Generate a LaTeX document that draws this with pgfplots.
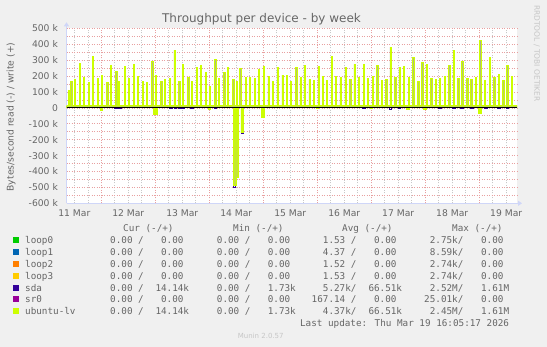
\documentclass[border=0pt]{standalone}
\usepackage{pgfplots}
\pgfplotsset{compat=1.18}
\usepackage{fontspec}
\setmainfont{DejaVu Sans}
\newfontfamily\mono{DejaVu Sans Mono}
\usetikzlibrary{arrows.meta}
\definecolor{bg}{HTML}{F0F0F0}
\definecolor{fontc}{HTML}{666666}
\definecolor{axisc}{HTML}{CFD6F8}
\definecolor{gridc}{HTML}{C8C8C8}
\definecolor{mgridc}{HTML}{E8A0A0}
\definecolor{cloop0}{HTML}{00CC00}
\definecolor{cloop1}{HTML}{0066B3}
\definecolor{cloop2}{HTML}{FF8000}
\definecolor{cloop3}{HTML}{FFCC00}
\definecolor{csda}{HTML}{330099}
\definecolor{csr0}{HTML}{990099}
\definecolor{cubuntu}{HTML}{CCFF00}
\definecolor{shtop}{HTML}{A8A89C}
\definecolor{shbot}{HTML}{C4E040}
\newcommand\Q{\hphantom{0}}
\newcommand\lfont{\mono\fontsize{9.3bp}{11bp}\selectfont}
\newcommand\vals[9]{%
  \node[anchor=base east] at (144,#1) {#2/};
  \node[anchor=base east] at (189.3,#1) {#3};
  \node[anchor=base east] at (250.7,#1) {#4/};
  \node[anchor=base east] at (296,#1) {#5};
  \node[anchor=base east] at (356.7,#1) {#6/};
  \node[anchor=base east] at (402.3,#1) {#7};
  \node[anchor=base east] at (463.6,#1) {#8/};
  \node[anchor=base east] at (509.3,#1) {#9};}
\begin{document}
\begin{tikzpicture}
\fill[bg] (0,0) rectangle (547bp,347bp);
\useasboundingbox (0,0) rectangle (547bp,347bp);
\begin{axis}[
  at={(66.5bp,143.7bp)}, anchor=south west,
  scale only axis, width=450.5bp, height=175bp,
  xmin=8.53, xmax=208.8, ymin=-600, ymax=500,
  axis background/.style={fill=white},
  axis x line=bottom, axis y line=left,
  axis line style={draw=axisc, line width=1bp},
  x axis line style={-{Triangle[length=4bp,width=5bp]}, shorten >=-5bp},
  y axis line style={-{Triangle[length=4bp,width=5bp]}, shorten >=-6bp},
  xtick={12,36,60,84,108,132,156,180,204},
  xticklabels={11 Mar,12 Mar,13 Mar,14 Mar,15 Mar,16 Mar,17 Mar,18 Mar,19 Mar},
  minor xtick={0,6,...,210},
  extra x ticks={24,48,72,96,120,144,168,192},
  extra x tick labels={},
  extra x tick style={grid=major, major grid style={draw=mgridc, line width=0.6bp, dash pattern=on 1bp off 1.5bp}},
  ytick={-600,-500,...,500},
  yticklabels={-600 k,-500 k,-400 k,-300 k,-200 k,-100 k,0,100 k,200 k,300 k,400 k,500 k},
  minor ytick={-550,-450,...,450},
  xmajorgrids, xminorgrids, ymajorgrids, yminorgrids,
  major grid style={draw=gridc, line width=0.6bp, dash pattern=on 1bp off 1.5bp},
  minor grid style={draw=gridc, line width=0.6bp, dash pattern=on 1bp off 1.5bp},
  y grid style={draw=mgridc},
  every major tick/.style={draw=none},
  every minor tick/.style={draw=none},
  tick label style={font=\fontsize{9.2bp}{11bp}\selectfont, text=fontc},
  yticklabel style={anchor=east, xshift=-3bp},
  xticklabel style={anchor=north, yshift=-1bp},
]
% sda read (-)
\addplot[const plot, draw=csda, line width=0.9bp] coordinates {
(8.53,0)
(30.0,-5)(31.0,0)(31.8,-5)(32.8,0)(54.5,-5)(55.5,0)(56.3,-5)(57.3,0)
(58.2,-5)(59.2,0)(59.8,-5)(60.8,0)(63.8,-5)(64.8,0)(74.2,-5)(75.2,0)
(82.7,-500)(83.7,-440)(85.0,0)(86.1,-160)(87.1,0)
(140.3,-5)(141.3,0)(152.1,-10)(153.1,0)(156.1,-5)(157.1,0)(174.0,-5)(175.0,0)
(180.3,-5)(181.3,0)(183.8,-5)(184.8,0)(188.3,-5)(189.3,0)(194.5,-5)(195.5,0)
(200.3,-5)(201.3,0)(204.1,-5)(205.1,0)
(208.8,0)};
% ubuntu-lv read (-)
\addplot[const plot, draw=cubuntu, line width=0.9bp, top color=cubuntu, bottom color=shbot] coordinates {
(8.53,0)
(23.5,-16)(24.5,0)(47.3,-41)(49.1,0)(71.5,-8)(72.5,0)
(82.7,-490)(83.9,-440)(85.0,0)(86.1,-157)(87.1,0)
(95.3,-62)(96.4,0)(119.5,-5)(120.5,0)(143.5,-5)(144.5,0)
(159.8,-10)(160.8,0)(167.4,-12)(168.4,0)(191.8,-37)(192.8,0)
(208.8,0)} \closedcycle;
% ubuntu-lv write (+)
\addplot[const plot, draw=cubuntu, line width=0.8bp, top color=shtop, bottom color=shbot] coordinates {
(8.53,15)
(9.3,111)(9.9,15) (10.4,168)(11.0,15) (11.9,178)(12.5,15)
(14.2,279)(14.8,15) (16.0,193)(16.6,15) (18.2,158)(18.8,15)
(20.1,323)(20.7,15) (22.2,185)(22.8,15) (24.1,206)(24.7,15)
(26.4,158)(27.0,15) (28.1,268)(28.7,15) (30.4,227)(31.0,15)
(31.6,164)(32.2,15) (34.2,260)(34.8,15) (36.0,185)(36.6,15)
(38.2,273)(38.8,15) (40.0,199)(40.6,15) (42.2,164)(42.8,15)
(43.9,158)(44.5,15) (46.4,294)(47.0,15) (48.1,206)(48.7,15)
(50.4,164)(51.0,15) (52.0,178)(52.6,15) (54.2,185)(54.8,15)
(56.3,361)(56.9,15) (58.4,164)(59.0,15) (60.1,273)(60.7,15)
(62.4,189)(63.0,15) (64.0,164)(64.6,15) (66.2,252)(66.8,15)
(68.0,265)(68.6,15) (70.2,221)(70.8,15) (72.1,137)(72.7,15)
(74.4,304)(75.0,15) (76.1,185)(76.7,15) (78.4,221)(79.0,15)
(80.1,252)(80.7,15) (82.4,178)(83.0,15) (84.0,164)(84.6,15)
(85.5,248)(86.1,15) (88.0,189)(88.6,15) (89.8,193)(90.4,15)
(92.1,185)(92.7,15) (93.9,241)(94.5,15) (96.1,262)(96.7,15)
(98.1,199)(98.7,15) (100.1,164)(100.7,15) (102.1,252)(102.7,15)
(104.3,206)(104.9,15) (106.2,206)(106.8,15) (108.1,164)(108.7,15)
(110.4,252)(111.0,15) (112.3,189)(112.9,15) (114.1,268)(114.7,15)
(116.3,178)(116.9,15) (118.2,172)(118.8,15) (120.3,262)(120.9,15)
(122.2,199)(122.8,15) (124.1,172)(124.7,15) (126.2,323)(126.8,15)
(128.1,199)(128.7,15) (130.1,189)(130.7,15) (132.3,252)(132.9,15)
(134.4,178)(135.0,15) (136.3,273)(136.9,15) (138.2,189)(138.8,15)
(140.5,273)(141.1,15) (142.2,185)(142.8,15) (144.5,199)(145.1,15)
(146.4,268)(147.0,15) (148.5,172)(149.1,15) (150.4,178)(151.0,15)
(152.3,382)(152.9,15) (154.4,193)(155.0,15) (156.3,252)(156.9,15)
(158.2,260)(158.8,15) (160.5,189)(161.1,15) (162.4,315)(163.0,15)
(164.6,164)(165.2,15) (166.4,283)(167.0,15) (168.3,273)(168.9,15)
(170.5,185)(171.1,15) (172.5,178)(173.1,15) (174.2,185)(174.8,15)
(176.5,199)(177.1,15) (178.4,265)(179.0,15) (180.5,361)(181.1,15)
(182.4,185)(183.0,15) (184.3,290)(184.9,15) (186.4,185)(187.0,15)
(188.3,178)(188.9,15) (190.2,189)(190.8,15) (192.3,424)(192.9,15)
(194.2,172)(194.8,15) (196.5,315)(197.1,15) (198.4,189)(199.0,15)
(200.5,210)(201.1,15) (202.4,172)(203.0,15) (204.3,266)(204.9,15)
(206.2,199)(206.8,15)
(208.8,15)} \closedcycle;
\draw[black, line width=0.9bp] (axis cs:8.53,0) -- (axis cs:208.8,0);
\end{axis}
\begin{scope}[x=1bp,y=1bp]
% titles
\node[text=fontc, font=\fontsize{12bp}{14bp}\selectfont] at (261.5,327.7) {Throughput per device - by week};
\node[text=fontc, rotate=90, font=\fontsize{9.2bp}{11bp}\selectfont] at (11,230) {Bytes/second read (-) / write (+)};
\node[text=gray!45, rotate=-90, font=\fontsize{7.5bp}{9bp}\selectfont] at (536.7,293.5) {RRDTOOL / TOBI OETIKER};
% legend
\begin{scope}[every node/.style={inner sep=0pt, text=fontc, font=\lfont}]
\node[anchor=base west] at (123,115.9) {Cur (-/+)};
\node[anchor=base west] at (233,115.9) {Min (-/+)};
\node[anchor=base west] at (342,115.9) {Avg (-/+)};
\node[anchor=base west] at (452,115.9) {Max (-/+)};
\fill[cloop0] (13,104) rectangle (19,110);
\fill[cloop1] (13,92.1) rectangle (19,98.1);
\fill[cloop2] (13,80.2) rectangle (19,86.2);
\fill[cloop3] (13,68.3) rectangle (19,74.3);
\fill[csda] (13,56.4) rectangle (19,62.4);
\fill[csr0] (13,44.5) rectangle (19,50.5);
\fill[cubuntu] (13,32.6) rectangle (19,38.6);
\node[anchor=base west] at (25,103.6) {loop0};
\node[anchor=base west] at (25,91.7) {loop1};
\node[anchor=base west] at (25,79.8) {loop2};
\node[anchor=base west] at (25,67.9) {loop3};
\node[anchor=base west] at (25,56.0) {sda};
\node[anchor=base west] at (25,44.1) {sr0};
\node[anchor=base west] at (25,32.2) {ubuntu-lv};
\vals{103.6}{0.00\Q}{0.00\Q}{0.00\Q}{0.00\Q}{1.53\Q}{0.00\Q}{2.75k}{0.00\Q}
\vals{91.7}{0.00\Q}{0.00\Q}{0.00\Q}{0.00\Q}{4.37\Q}{0.00\Q}{8.59k}{0.00\Q}
\vals{79.8}{0.00\Q}{0.00\Q}{0.00\Q}{0.00\Q}{1.52\Q}{0.00\Q}{2.74k}{0.00\Q}
\vals{67.9}{0.00\Q}{0.00\Q}{0.00\Q}{0.00\Q}{1.53\Q}{0.00\Q}{2.74k}{0.00\Q}
\vals{56.0}{0.00\Q}{14.14k}{0.00\Q}{1.73k}{5.27k}{66.51k}{2.52M}{1.61M}
\vals{44.1}{0.00\Q}{0.00\Q}{0.00\Q}{0.00\Q}{167.14\Q}{0.00\Q}{25.01k}{0.00\Q}
\vals{32.2}{0.00\Q}{14.14k}{0.00\Q}{1.73k}{4.37k}{66.51k}{2.45M}{1.61M}
\node[anchor=base east] at (509.3,20.3) {Last update: Thu Mar 19 16:05:17 2026};
\end{scope}
\node[text=gray!45, font=\fontsize{7bp}{8bp}\selectfont] at (260.7,10.7) {Munin 2.0.57};
\end{scope}
\end{tikzpicture}
\end{document}
